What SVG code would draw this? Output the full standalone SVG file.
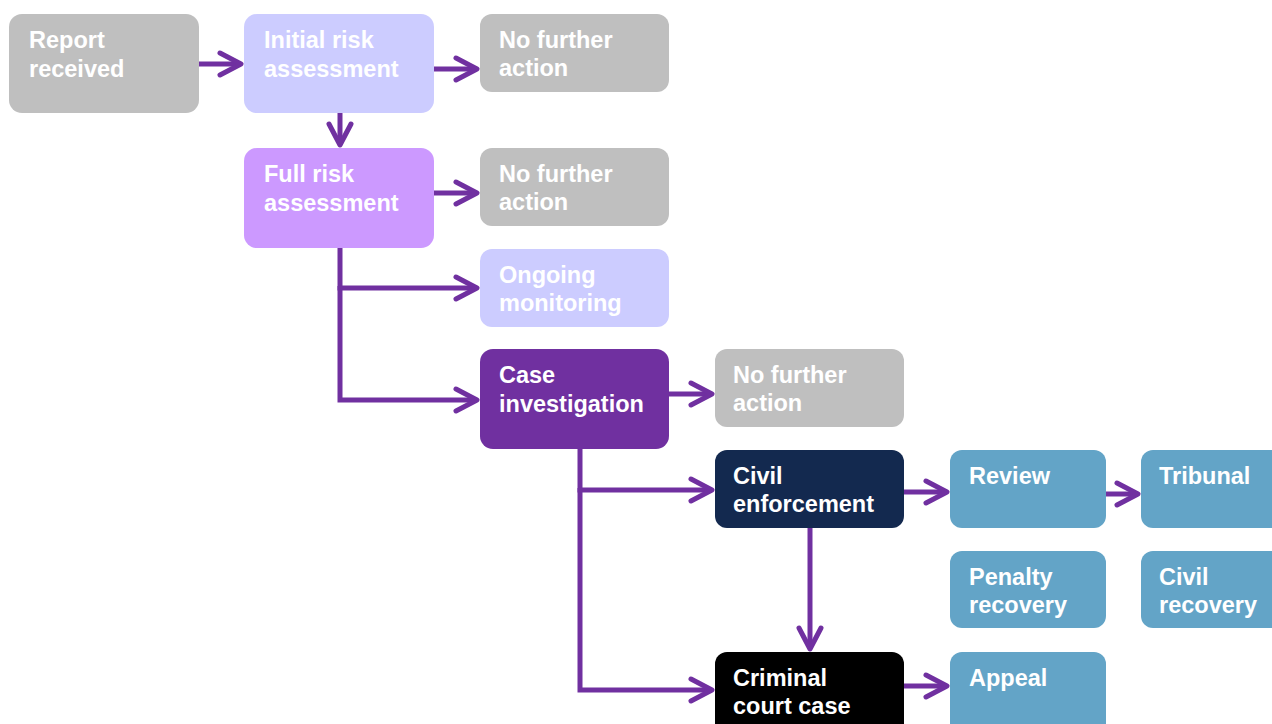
<svg xmlns="http://www.w3.org/2000/svg" width="1272" height="724" viewBox="0 0 1272 724">
<defs>
<marker id="arr" markerUnits="userSpaceOnUse" viewBox="-28 -16 32 32" markerWidth="32" markerHeight="32" refX="0" refY="0" orient="auto" overflow="visible">
<path d="M-21,-11 L0,0 L-21,11" fill="none" stroke="#7030A0" stroke-width="5" stroke-linecap="round" stroke-linejoin="round"/>
</marker>
<style>
.n{stroke:none}
.t{font-family:"Liberation Sans",Arial,sans-serif;font-weight:bold;font-size:23.5px;fill:#fff}
.c{fill:none;stroke:#7030A0;stroke-width:5;stroke-linejoin:miter}
.gray{fill:#BFBFBF}
.lav{fill:#CCCCFF}
.vio{fill:#CC99FF}
.pur{fill:#7030A0}
.navy{fill:#13294F}
.blk{fill:#000}
.blue{fill:#63A4C7}
</style>
</defs>
<g id="connectors">
<path class="c" d="M199,64 H241" marker-end="url(#arr)"/>
<path class="c" d="M434,69 H477" marker-end="url(#arr)"/>
<path class="c" d="M340,113 V145" marker-end="url(#arr)"/>
<path class="c" d="M434,193 H477" marker-end="url(#arr)"/>
<path class="c" d="M340,248 V288 H477" marker-end="url(#arr)"/>
<path class="c" d="M340,286 V400 H477" marker-end="url(#arr)"/>
<path class="c" d="M669,394 H712" marker-end="url(#arr)"/>
<path class="c" d="M580,449 V490 H712" marker-end="url(#arr)"/>
<path class="c" d="M580,488 V690 H712" marker-end="url(#arr)"/>
<path class="c" d="M904,492 H947" marker-end="url(#arr)"/>
<path class="c" d="M1106,494 H1138" marker-end="url(#arr)"/>
<path class="c" d="M810,528 V649" marker-end="url(#arr)"/>
<path class="c" d="M904,686 H947" marker-end="url(#arr)"/>
</g>
<g id="report"><rect class="n gray" x="9" y="14" width="190" height="99" rx="13"/><text class="t" x="29" y="48">Report</text><text class="t" x="29" y="77">received</text></g>
<g id="initial"><rect class="n lav" x="244" y="14" width="190" height="99" rx="13"/><text class="t" x="264" y="48">Initial risk</text><text class="t" x="264" y="77">assessment</text></g>
<g id="nfa1"><rect class="n gray" x="480" y="14" width="189" height="78" rx="12"/><text class="t" x="499" y="48">No further</text><text class="t" x="499" y="76">action</text></g>
<g id="full"><rect class="n vio" x="244" y="148" width="190" height="100" rx="13"/><text class="t" x="264" y="182">Full risk</text><text class="t" x="264" y="211">assessment</text></g>
<g id="nfa2"><rect class="n gray" x="480" y="148" width="189" height="78" rx="12"/><text class="t" x="499" y="182">No further</text><text class="t" x="499" y="210">action</text></g>
<g id="ongoing"><rect class="n lav" x="480" y="249" width="189" height="78" rx="12"/><text class="t" x="499" y="283">Ongoing</text><text class="t" x="499" y="311">monitoring</text></g>
<g id="case"><rect class="n pur" x="480" y="349" width="189" height="100" rx="13"/><text class="t" x="499" y="383">Case</text><text class="t" x="499" y="412">investigation</text></g>
<g id="nfa3"><rect class="n gray" x="715" y="349" width="189" height="78" rx="12"/><text class="t" x="733" y="383">No further</text><text class="t" x="733" y="411">action</text></g>
<g id="civil"><rect class="n navy" x="715" y="450" width="189" height="78" rx="12"/><text class="t" x="733" y="484">Civil</text><text class="t" x="733" y="512">enforcement</text></g>
<g id="review"><rect class="n blue" x="950" y="450" width="156" height="78" rx="12"/><text class="t" x="969" y="484">Review</text></g>
<g id="tribunal"><rect class="n blue" x="1141" y="450" width="150" height="78" rx="12"/><text class="t" x="1159" y="484">Tribunal</text></g>
<g id="penalty"><rect class="n blue" x="950" y="551" width="156" height="77" rx="12"/><text class="t" x="969" y="585">Penalty</text><text class="t" x="969" y="613">recovery</text></g>
<g id="civilrec"><rect class="n blue" x="1141" y="551" width="150" height="77" rx="12"/><text class="t" x="1159" y="585">Civil</text><text class="t" x="1159" y="613">recovery</text></g>
<g id="criminal"><rect class="n blk" x="715" y="652" width="189" height="100" rx="12"/><text class="t" x="733" y="686">Criminal</text><text class="t" x="733" y="714">court case</text></g>
<g id="appeal"><rect class="n blue" x="950" y="652" width="156" height="100" rx="12"/><text class="t" x="969" y="686">Appeal</text></g>
</svg>
